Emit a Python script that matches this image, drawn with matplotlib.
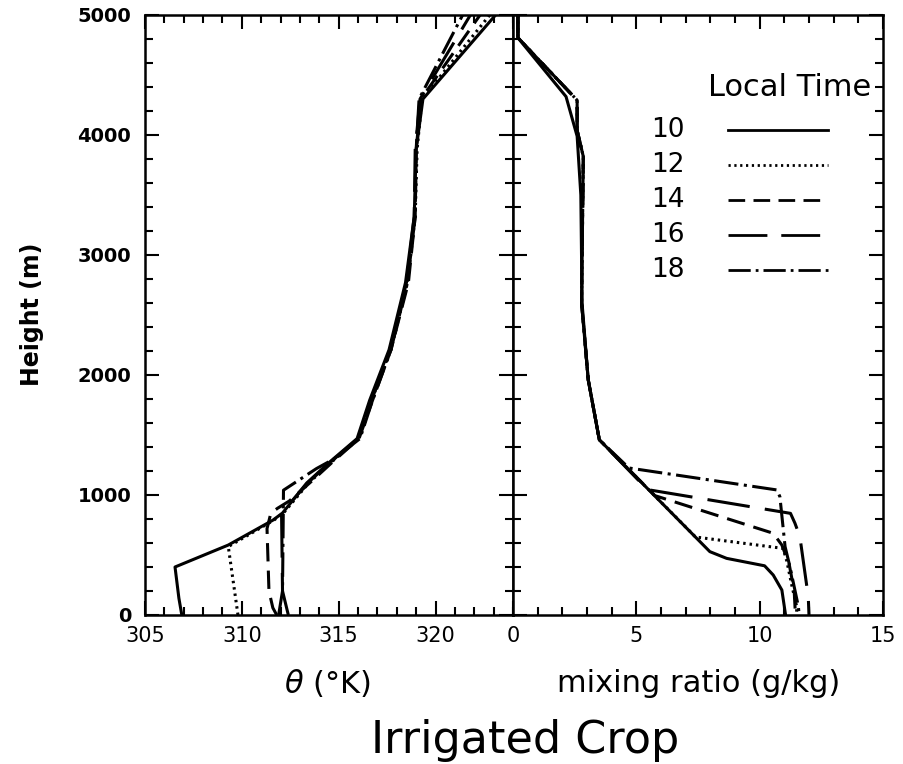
import matplotlib.pyplot as plt
from matplotlib.ticker import MultipleLocator

plt.rcParams['font.family'] = ['DejaVu Sans']

times = ['10', '12', '14', '16', '18']
styles = ['-', (0, (0.8, 1.3)), (0, (6, 3)), (0, (14, 5)), (0, (8, 1.8, 1, 1.8))]

# potential temperature (K) against height (m), one profile per local time
th_h10 = [0, 140, 400, 583, 790, 850, 1100, 1270, 1470, 1790, 2210, 2770, 3320, 3880, 4300, 5000]
th_10 = [306.9, 306.75, 306.55, 309.3, 311.6, 312.1, 313.35, 314.5, 315.95, 316.6, 317.6, 318.45, 318.9, 319.0, 319.35, 323.1]
th_h12 = [0, 570, 790, 850, 1100, 1270, 1470, 1790, 2210, 2770, 3320, 3880, 4300, 5000]
th_12 = [309.8, 309.3, 311.65, 312.15, 313.45, 314.6, 316.0, 316.7, 317.7, 318.55, 318.95, 319.05, 319.3, 322.8]
th_h14 = [0, 60, 200, 720, 850, 890, 950, 1100, 1270, 1470, 1790, 2210, 2770, 3320, 3880, 4300, 5000]
th_14 = [311.8, 311.6, 311.4, 311.3, 311.5, 311.85, 312.45, 313.5, 314.65, 316.05, 316.75, 317.7, 318.6, 318.95, 319.0, 319.25, 322.3]
th_h16 = [0, 200, 850, 1100, 1270, 1470, 1790, 2210, 2770, 3320, 3880, 4300, 5000]
th_16 = [312.4, 312.1, 312.05, 313.4, 314.55, 316.0, 316.7, 317.65, 318.5, 318.9, 318.95, 319.2, 321.8]
th_h18 = [0, 200, 1040, 1220, 1300, 1470, 1790, 2210, 2770, 3320, 3880, 4300, 5000]
th_18 = [311.9, 312.1, 312.15, 313.85, 314.75, 316.1, 316.75, 317.7, 318.55, 318.95, 319.0, 319.15, 321.4]

# water vapour mixing ratio (g/kg) against height (m)
q_h10 = [5000, 4810, 4320, 3990, 3500, 2600, 1960, 1460, 528, 472, 410, 333, 208, 0]
q_10 = [0.2, 0.2, 2.15, 2.6, 2.75, 2.8, 3.05, 3.5, 7.98, 8.66, 10.2, 10.55, 10.9, 11.05]
q_h12 = [5000, 4810, 4290, 4040, 3820, 2600, 1960, 1460, 650, 555, 450, 250, 70, 0]
q_12 = [0.2, 0.2, 2.6, 2.6, 2.85, 2.78, 3.05, 3.5, 7.4, 10.95, 11.1, 11.3, 11.5, 11.5]
q_h14 = [5000, 4810, 4290, 4040, 3820, 2600, 1960, 1460, 995, 681, 583, 420, 200, 0]
q_14 = [0.2, 0.2, 2.6, 2.6, 2.85, 2.78, 3.05, 3.5, 5.75, 10.55, 10.9, 11.2, 11.4, 11.45]
q_h16 = [5000, 4810, 4290, 4040, 3820, 2600, 1960, 1460, 1045, 847, 765, 653, 153, 0]
q_16 = [0.2, 0.2, 2.6, 2.6, 2.85, 2.78, 3.05, 3.5, 5.45, 11.25, 11.43, 11.63, 11.97, 12.0]
q_h18 = [5000, 4810, 4290, 4040, 3820, 2600, 1960, 1460, 1225, 1042, 986, 570, 400, 70, 0]
q_18 = [0.2, 0.2, 2.6, 2.6, 2.85, 2.78, 3.05, 3.5, 4.7, 10.7, 10.82, 11.03, 11.23, 11.57, 11.6]

theta = [(th_10, th_h10), (th_12, th_h12), (th_14, th_h14), (th_16, th_h16), (th_18, th_h18)]
mixr = [(q_10, q_h10), (q_12, q_h12), (q_14, q_h14), (q_16, q_h16), (q_18, q_h18)]

fig = plt.figure(figsize=(9.04, 7.64), dpi=100)
ax1 = fig.add_axes([145 / 904, 149 / 764, 368 / 904, 600 / 764])
ax2 = fig.add_axes([513 / 904, 149 / 764, 370 / 904, 600 / 764])

for (x, h), ls in zip(theta, styles):
    ax1.plot(x, h, color='black', lw=2.2, ls=ls)
for (x, h), ls in zip(mixr, styles):
    ax2.plot(x, h, color='black', lw=2.2, ls=ls)

ax1.set_xlim(305, 324)
ax2.set_xlim(0, 15)
for ax in (ax1, ax2):
    ax.set_ylim(0, 5000)
    ax.yaxis.set_major_locator(MultipleLocator(1000))
    ax.yaxis.set_minor_locator(MultipleLocator(200))
    ax.xaxis.set_major_locator(MultipleLocator(5))
    ax.xaxis.set_minor_locator(MultipleLocator(1))
    ax.tick_params(which='both', direction='in', top=True, right=True, width=1.5, pad=8)
    ax.tick_params(which='major', length=10)
    ax.tick_params(which='minor', length=5.5)
    ax.tick_params(axis='x', labelsize=15)
    for s in ax.spines.values():
        s.set_linewidth(1.8)

ax1.set_xticks([305, 310, 315, 320])
ax1.tick_params(axis='y', labelsize=14, pad=10)
plt.setp(ax1.get_yticklabels(), fontweight='bold')
ax2.tick_params(labelleft=False)

# legend drawn by hand, labels to the left of the line samples
ax2.text(0.747, 0.88, 'Local Time', transform=ax2.transAxes, fontsize=22,
         ha='center', va='center')
rows = [0.808, 0.75, 0.692, 0.633, 0.575]
for t, ls, y in zip(times, styles, rows):
    ax2.text(0.419, y, t, transform=ax2.transAxes, fontsize=19, ha='center', va='center')
    ax2.plot([0.581, 0.851], [y, y], transform=ax2.transAxes, color='black', lw=2.0, ls=ls)

fig.text(0.035, 0.588, 'Height (m)', rotation=90, fontsize=17, fontweight='bold',
         ha='center', va='center')
fig.text(0.362, 0.106, r'$\theta$ (°K)', fontsize=22, ha='center', va='center')
fig.text(0.773, 0.106, 'mixing ratio (g/kg)', fontsize=22, ha='center', va='center')
fig.text(0.581, 0.031, 'Irrigated Crop', fontsize=32, ha='center', va='center')

fig.savefig('out.png', dpi=100)
